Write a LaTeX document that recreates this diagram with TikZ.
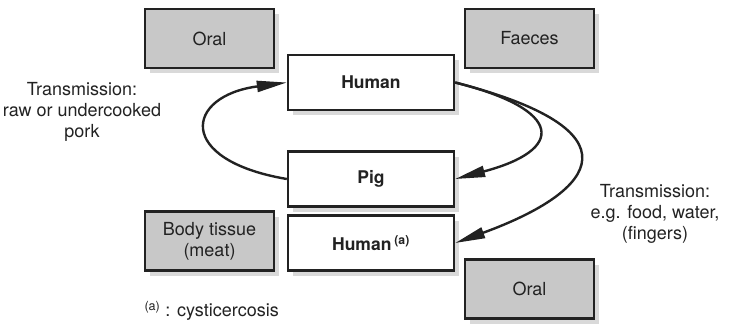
\documentclass[tikz,border=0pt]{standalone}
\usepackage{fontspec}
\setmainfont{TeX Gyre Heros}
\usetikzlibrary{arrows.meta,shadows}
\definecolor{ink}{HTML}{222222}
\definecolor{boxgray}{HTML}{C8C8C8}
\definecolor{shade}{HTML}{D9D9D9}
\tikzset{
  base/.style={draw=ink,line width=2.4pt,inner sep=0pt,align=center,text=ink,
    font=\fontsize{18}{21}\selectfont,
    drop shadow={shadow xshift=5pt,shadow yshift=-5pt,fill=shade,opacity=1}},
  graybox/.style={base,fill=boxgray,minimum width=129pt,minimum height=59pt},
  whitebox/.style={base,fill=white,minimum width=166pt,minimum height=55pt,
    font=\fontsize{17.5}{20}\selectfont\bfseries},
  arr/.style={draw=ink,line width=2.4pt,-{Triangle[length=30pt,width=11pt]}},
  lbl/.style={align=center,text=ink,font=\fontsize{18}{21}\selectfont}
}
\begin{document}
\begin{tikzpicture}[x=1pt,y=-1pt]
\useasboundingbox (0,0) rectangle (735,327);
\node[graybox] (oral1) at (209.5,38.5) {Oral};
\node[graybox] (faeces) at (529.5,38.5) {Faeces};
\node[whitebox] (human) at (371,82.5) {Human};
\node[whitebox] (pig) at (371,179) {Pig};
\node[whitebox] (humana) at (371,243) {Human\,\textsuperscript{(a)}};
\node[graybox] (tissue) at (209.5,241) {Body tissue\\(meat)};
\node[graybox] (oral2) at (529.5,289) {Oral};
\draw[arr] (pig.west) .. controls (175,160) and (185,96) .. (human.west);
\draw[arr] (human.east) .. controls (565,110) and (565,150) .. (pig.east);
\draw[arr] (human.east) .. controls (640,130) and (600,190) .. (humana.east);
\node[lbl] (lleft) at (82,112) {Transmission:\\raw or undercooked\\pork};
\node[lbl] (lright) at (655,214) {Transmission:\\e.g. food, water,\\(fingers)};
\node[lbl,anchor=west] (foot) at (141,311) {\textsuperscript{(a)} : cysticercosis};
\end{tikzpicture}
\end{document}
